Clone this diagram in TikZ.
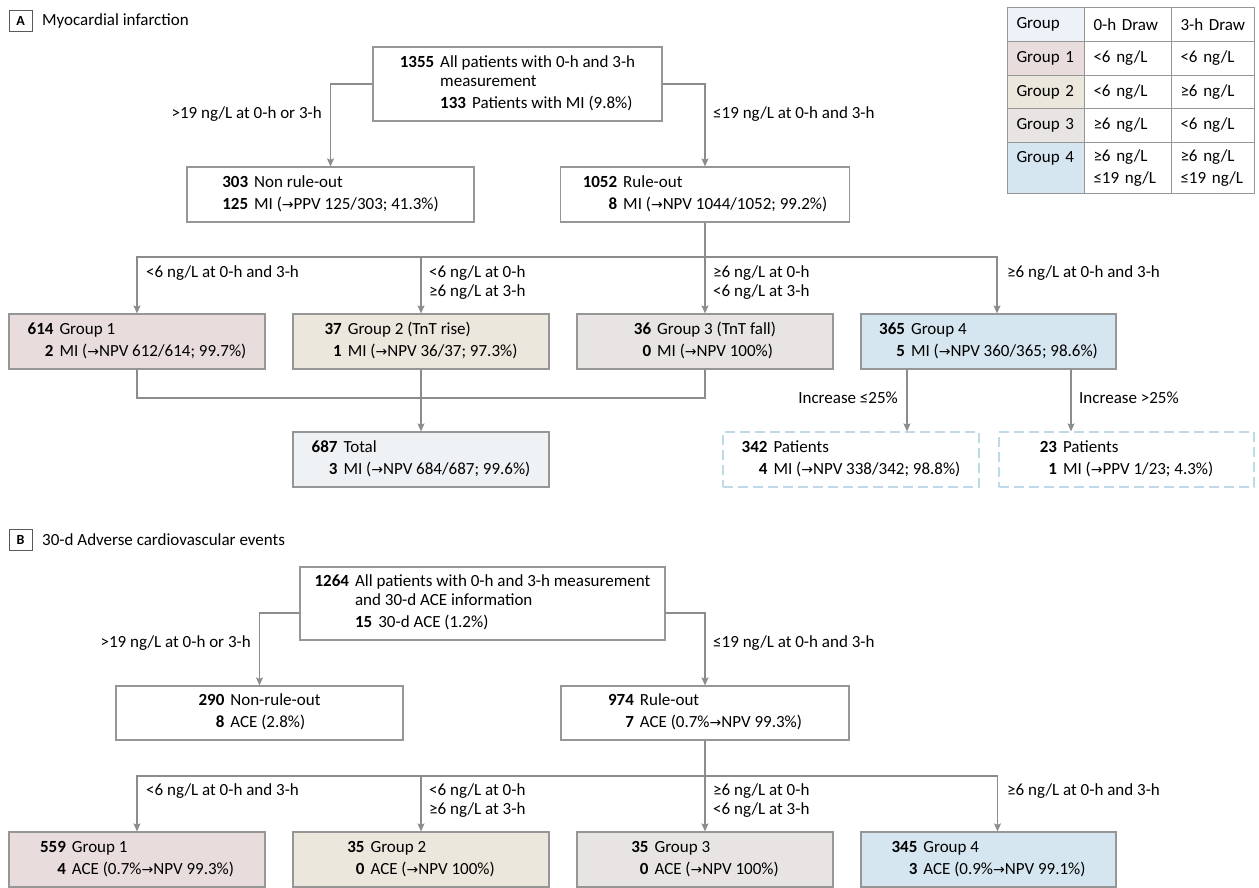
\documentclass[tikz,border=0pt]{standalone}
\usepackage{fontspec}
\setmainfont{Carlito}
\newfontfamily\arrowfont{DejaVu Sans}
\usetikzlibrary{arrows.meta,calc}

\definecolor{boxgray}{RGB}{150,150,150}
\definecolor{linegray}{RGB}{140,140,140}
\definecolor{taggray}{RGB}{90,90,90}
\definecolor{grpone}{RGB}{232,220,220}
\definecolor{grptwo}{RGB}{235,231,220}
\definecolor{grpthree}{RGB}{233,228,228}
\definecolor{grpfour}{RGB}{213,230,240}
\definecolor{totfill}{RGB}{238,242,245}
\definecolor{headfill}{RGB}{236,242,247}
\definecolor{dashblue}{RGB}{190,218,232}

% small arrow used inside the box texts
\newcommand{\npvarrow}{{\arrowfont\fontsize{14}{14}\selectfont →}}
% number / text pairs of a box
\newcommand{\tworow}[4]{\begin{tabular}{@{}r@{\hspace{6pt}}l@{}}\textbf{#1} & #2\\[3pt]\textbf{#3} & #4\end{tabular}}

\tikzset{
  box/.style={draw=boxgray, line width=1.2pt, minimum height=55pt, inner sep=0pt},
  grpbox/.style={box, minimum width=256pt},
  dashbox/.style={box, draw=dashblue, dash pattern=on 10pt off 5pt, minimum width=256pt},
  link/.style={draw=linegray, line width=1.2pt},
  arr/.style={link, -{Stealth[length=8pt,width=7pt,inset=1.5pt]}},
  lbl/.style={inner sep=0pt, align=left},
  cell/.style={draw=boxgray, line width=1pt, anchor=north west, align=left, inner xsep=9pt, inner ysep=0pt},
  tag/.style={draw=taggray, line width=0.9pt, minimum width=23pt, minimum height=21pt, inner sep=0pt, font=\fontsize{14}{14}\selectfont\bfseries}
}

\begin{document}
\begin{tikzpicture}[x=1pt,y=1pt,yscale=-1,xscale=1,font=\fontsize{17}{19}\selectfont]
\fill[white] (0,0) rectangle (1259,888);
\useasboundingbox (0,0) rectangle (1259,888);

%% ---------------- panel A ----------------
\node[tag] (tagA) at (20.5,20.5) {A};
\node[lbl, anchor=west] (titleA) at (42,20.5) {Myocardial infarction};

% boxes
\node[box, minimum width=289pt, minimum height=74pt] (topA) at (517.5,84)
  {\begin{tabular}{@{}r@{\hspace{6pt}}l@{}}\textbf{1355} & All patients with 0-h and 3-h\\ & measurement\\[3pt] & \textbf{133}\hspace{6pt}Patients with MI (9.8\%)\end{tabular}};
\node[box, minimum width=287pt] (nroA) at (330.5,194.5) {\tworow{303}{Non rule-out}{125}{MI (\npvarrow PPV 125/303; 41.3\%)}};
\node[box, minimum width=289pt] (roA) at (705,194.5) {\tworow{1052}{Rule-out}{8}{MI (\npvarrow NPV 1044/1052; 99.2\%)}};

\node[grpbox, fill=grpone] (g1A) at (137,341.5) {\tworow{614}{Group 1}{2}{MI (\npvarrow NPV 612/614; 99.7\%)}};
\node[grpbox, fill=grptwo] (g2A) at (421,341.5) {\tworow{37}{Group 2 (TnT rise)}{1}{MI (\npvarrow NPV 36/37; 97.3\%)}};
\node[grpbox, fill=grpthree] (g3A) at (705,341.5) {\tworow{36}{Group 3 (TnT fall)}{0}{MI (\npvarrow NPV 100\%)}};
\node[grpbox, fill=grpfour, minimum width=255pt] (g4A) at (988.5,341.5) {\tworow{365}{Group 4}{5}{MI (\npvarrow NPV 360/365; 98.6\%)}};

\node[grpbox, fill=totfill] (totA) at (421,459.5) {\tworow{687}{Total}{3}{MI (\npvarrow NPV 684/687; 99.6\%)}};
\node[dashbox] (lowA) at (851,459.5) {\tworow{342}{Patients}{4}{MI (\npvarrow NPV 338/342; 98.8\%)}};
\node[dashbox, minimum width=255pt] (highA) at (1126.5,459.5) {\tworow{23}{Patients}{1}{MI (\npvarrow PPV 1/23; 4.3\%)}};

% labels
\node[lbl, anchor=east] (l1A) at (322,114) {>19 ng/L at 0-h or 3-h};
\node[lbl, anchor=west] (l2A) at (713,114) {≤19 ng/L at 0-h and 3-h};
\node[lbl, anchor=north west] (l3A) at (146,265) {<6 ng/L at 0-h and 3-h};
\node[lbl, anchor=north west] (l4A) at (429,265) {<6 ng/L at 0-h\\≥6 ng/L at 3-h};
\node[lbl, anchor=north west] (l5A) at (713,265) {≥6 ng/L at 0-h\\<6 ng/L at 3-h};
\node[lbl, anchor=north west] (l6A) at (1007,265) {≥6 ng/L at 0-h and 3-h};
\node[lbl, anchor=east] (l7A) at (898,398) {Increase ≤25\%};
\node[lbl, anchor=west] (l8A) at (1079,398) {Increase >25\%};

% connectors
\coordinate (busA) at (705,257);
\coordinate (joinA) at (421,398);
\draw[arr] (topA.west) -| (nroA.north);
\draw[arr] (topA.east) -| (roA.north);
\draw[link] (roA.south) -- (busA);
\draw[arr] (busA) -| (g1A.north);
\draw[arr] (busA -| g2A.north) -- (g2A.north);
\draw[arr] (busA) -- (g3A.north);
\draw[arr] (busA) -| ($(g4A.north)+(8.5,0)$);
\draw[link] (g1A.south) |- (joinA);
\draw[link] (g3A.south) |- (joinA);
\draw[arr] (g2A.south) -- (totA.north);
\draw[arr] ($(g4A.south)+(-81.5,0)$) -- ($(lowA.north)+(56,0)$);
\draw[arr] ($(g4A.south)+(82.5,0)$) -- ($(highA.north)+(-55.5,0)$);

% group table
\node[cell, fill=headfill, text width=59pt, minimum height=34pt] (tg0) at (1007,7) {Group};
\node[cell, text width=69pt, minimum height=34pt] (to0) at (1084,7) {0-h Draw};
\node[cell, text width=65pt, minimum height=34pt] (tt0) at (1171,7) {3-h Draw};
\node[cell, fill=grpone, text width=59pt, minimum height=34pt] (tg1) at (1007,41) {Group 1};
\node[cell, text width=69pt, minimum height=34pt] (to1) at (1084,41) {<6 ng/L};
\node[cell, text width=65pt, minimum height=34pt] (tt1) at (1171,41) {<6 ng/L};
\node[cell, fill=grptwo, text width=59pt, minimum height=33pt] (tg2) at (1007,75) {Group 2};
\node[cell, text width=69pt, minimum height=33pt] (to2) at (1084,75) {<6 ng/L};
\node[cell, text width=65pt, minimum height=33pt] (tt2) at (1171,75) {≥6 ng/L};
\node[cell, fill=grpthree, text width=59pt, minimum height=34pt] (tg3) at (1007,108) {Group 3};
\node[cell, text width=69pt, minimum height=34pt] (to3) at (1084,108) {≥6 ng/L};
\node[cell, text width=65pt, minimum height=34pt] (tt3) at (1171,108) {<6 ng/L};
\node[cell, fill=grpfour, text width=59pt, minimum height=51pt, font=\fontsize{17}{22}\selectfont] (tg4) at (1007,142) {Group 4\\ \mbox{}};
\node[cell, text width=69pt, minimum height=51pt, font=\fontsize{17}{22}\selectfont] (to4) at (1084,142) {≥6 ng/L\\≤19 ng/L};
\node[cell, text width=65pt, minimum height=51pt, font=\fontsize{17}{22}\selectfont] (tt4) at (1171,142) {≥6 ng/L\\≤19 ng/L};

%% ---------------- panel B ----------------
\node[tag] (tagB) at (20.5,539.5) {B};
\node[lbl, anchor=west] (titleB) at (42,539.5) {30-d Adverse cardiovascular events};

% boxes
\node[box, minimum width=365pt, minimum height=73pt] (topB) at (482.5,603.5)
  {\begin{tabular}{@{}r@{\hspace{6pt}}l@{}}\textbf{1264} & All patients with 0-h and 3-h measurement\\ & and 30-d ACE information\\[3pt] & \textbf{15}\hspace{6pt}30-d ACE (1.2\%)\end{tabular}};
\node[box, minimum width=287pt, minimum height=54pt] (nroB) at (259.5,713) {\tworow{290}{Non-rule-out}{8}{ACE (2.8\%)}};
\node[box, minimum width=288pt, minimum height=54pt] (roB) at (705,713) {\tworow{974}{Rule-out}{7}{ACE (0.7\%\npvarrow NPV 99.3\%)}};

\node[grpbox, fill=grpone] (g1B) at (137,859.5) {\tworow{559}{Group 1}{4}{ACE (0.7\%\npvarrow NPV 99.3\%)}};
\node[grpbox, fill=grptwo] (g2B) at (421,859.5) {\tworow{35}{Group 2}{0}{ACE (\npvarrow NPV 100\%)}};
\node[grpbox, fill=grpthree] (g3B) at (705,859.5) {\tworow{35}{Group 3}{0}{ACE (\npvarrow NPV 100\%)}};
\node[grpbox, fill=grpfour, minimum width=255pt] (g4B) at (988.5,859.5) {\tworow{345}{Group 4}{3}{ACE (0.9\%\npvarrow NPV 99.1\%)}};

% labels
\node[lbl, anchor=east] (l1B) at (251,643) {>19 ng/L at 0-h or 3-h};
\node[lbl, anchor=west] (l2B) at (713,643) {≤19 ng/L at 0-h and 3-h};
\node[lbl, anchor=north west] (l3B) at (146,783) {<6 ng/L at 0-h and 3-h};
\node[lbl, anchor=north west] (l4B) at (429,783) {<6 ng/L at 0-h\\≥6 ng/L at 3-h};
\node[lbl, anchor=north west] (l5B) at (713,783) {≥6 ng/L at 0-h\\<6 ng/L at 3-h};
\node[lbl, anchor=north west] (l6B) at (1007,783) {≥6 ng/L at 0-h and 3-h};

% connectors
\coordinate (busB) at (705,776);
\draw[arr] ($(topB.west)+(0,9.5)$) -| (nroB.north);
\draw[arr] ($(topB.east)+(0,9.5)$) -| (roB.north);
\draw[link] (roB.south) -- (busB);
\draw[arr] (busB) -| (g1B.north);
\draw[arr] (busB -| g2B.north) -- (g2B.north);
\draw[arr] (busB) -- (g3B.north);
\draw[arr] (busB) -| ($(g4B.north)+(9,0)$);

\end{tikzpicture}
\end{document}
